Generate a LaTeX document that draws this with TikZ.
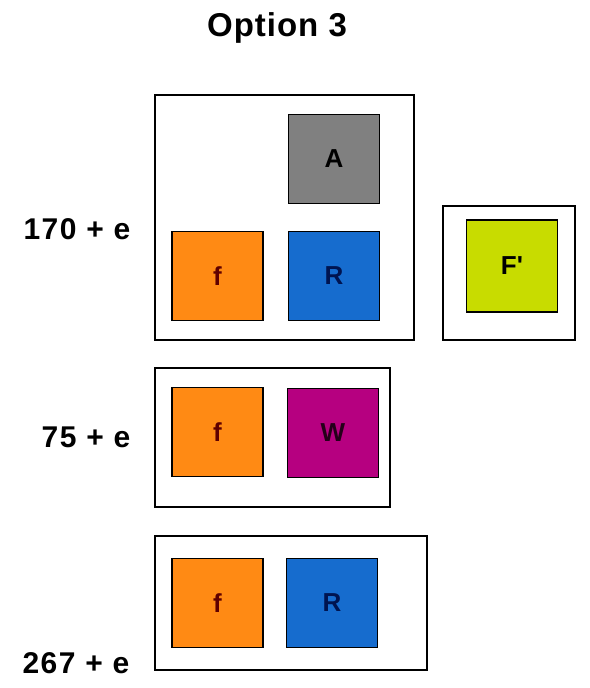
\documentclass[tikz,border=0pt]{standalone}
\usepackage{fontspec}
\setmainfont{Liberation Sans}
\newfontfamily\lblface[LetterSpace=5]{Liberation Sans}
\newfontfamily\titleface[LetterSpace=3]{Liberation Sans}
\definecolor{greyA}{RGB}{128,128,128}
\definecolor{orangeF}{RGB}{255,138,20}
\definecolor{blueR}{RGB}{22,108,206}
\definecolor{magW}{RGB}{182,0,128}
\definecolor{limeF}{RGB}{200,220,0}
\definecolor{darkred}{RGB}{95,0,0}
\definecolor{darknavy}{RGB}{0,20,80}
\begin{document}
\begin{tikzpicture}[x=1pt, y=-1pt,
    grp/.style={draw, line width=1.6pt, inner sep=0pt},
    blk/.style={draw, line width=1.6pt, inner sep=0pt, minimum width=91pt, minimum height=89pt,
      font=\fontsize{26}{28}\selectfont\bfseries},
    lbl/.style={font=\lblface\fontsize{30}{32}\selectfont\bfseries}]
    \useasboundingbox (0,0) rectangle (589,688);
    \node[font=\titleface\fontsize{33}{35}\selectfont\bfseries] (title) at (277,28) {Option 3};
    % first group
    \node[grp, minimum width=259pt, minimum height=245pt] (box1) at (284.5,217.5) {};
    \node[blk, fill=greyA] (a) at (334,159) {A};
    \node[blk, fill=orangeF, text=darkred] (f1) at (217.5,276) {f};
    \node[blk, fill=blueR, text=darknavy] (r1) at (334,276) {R};
    \node[lbl] (l1) at (77,229) {170 + e};
    \node[grp, minimum width=132pt, minimum height=134pt] (box2) at (509,273) {};
    \node[blk, fill=limeF, minimum height=92pt] (fp) at (512,266) {F\textquotesingle};
    % second group
    \node[grp, minimum width=235pt, minimum height=139pt] (box3) at (272.5,437.5) {};
    \node[blk, fill=orangeF, text=darkred] (f2) at (217.5,432) {f};
    \node[blk, fill=magW, text=black!80!magW] (w) at (333,433) {W};
    \node[lbl] (l2) at (86,437) {75 + e};
    % third group
    \node[grp, minimum width=272pt, minimum height=134pt] (box4) at (291,603) {};
    \node[blk, fill=orangeF, text=darkred] (f3) at (217.5,603) {f};
    \node[blk, fill=blueR, text=darknavy] (r3) at (332,603) {R};
    \node[lbl] (l3) at (76,663) {267 + e};
\end{tikzpicture}
\end{document}
